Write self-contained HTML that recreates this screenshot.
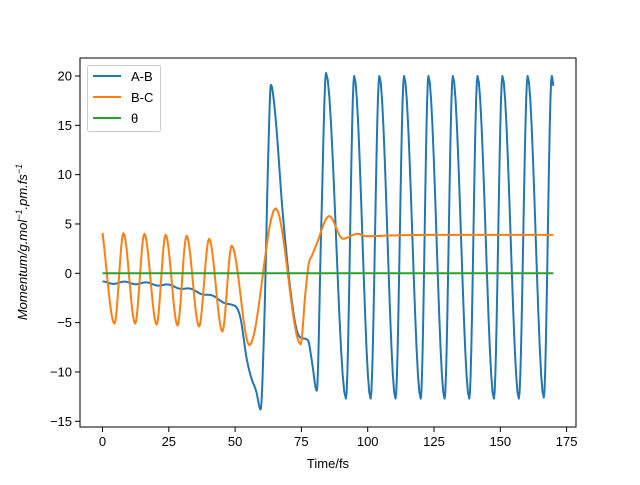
<!DOCTYPE html>
<html><head><meta charset="utf-8"><style>
body{margin:0;background:#fff}
svg text{font-family:"Liberation Sans","DejaVu Sans",sans-serif;font-size:13px;fill:#000}
</style></head><body>
<svg id="s" width="640" height="480" xmlns="http://www.w3.org/2000/svg">
<rect width="640" height="480" fill="#fff"/>
<g id="plot"></g>
<rect x="80" y="58" width="496" height="369" fill="none" stroke="#000" stroke-width="1"/>
<g id="ticks" stroke="#000" stroke-width="1"></g>
<g id="labels"></g>
<text x="328" y="468" text-anchor="middle">Time/fs</text>
<text transform="translate(27,242) rotate(-90)" text-anchor="middle" font-style="italic">Momentum/g.mol<tspan dy="-5" font-size="9">−1</tspan><tspan dy="5">.pm.fs</tspan><tspan dy="-5" font-size="9">−1</tspan></text>
<rect x="87.5" y="65.5" width="73" height="66" rx="2" fill="#fff" fill-opacity="0.8" stroke="#ccc"/>
<line x1="93" y1="76" x2="121" y2="76" stroke="#1f77b4" stroke-width="2"/>
<text x="131" y="81">A-B</text>
<line x1="93" y1="97" x2="121" y2="97" stroke="#ff7f0e" stroke-width="2"/>
<text x="131" y="102">B-C</text>
<line x1="93" y1="118" x2="121" y2="118" stroke="#2ca02c" stroke-width="2"/>
<text x="131" y="123">θ</text>
</svg>
<script>
var X=function(t){return 102.5+t*2.652},Y=function(v){return 273.3-v*9.865};
function mono(pts){var n=pts.length,d=[],m=[];for(var i=0;i<n-1;i++)d.push((pts[i+1][1]-pts[i][1])/(pts[i+1][0]-pts[i][0]));
m[0]=d[0];m[n-1]=d[n-2];for(i=1;i<n-1;i++){if(d[i-1]*d[i]<=0)m[i]=0;else m[i]=(d[i-1]+d[i])/2;}
for(i=0;i<n-1;i++){if(d[i]==0){m[i]=0;m[i+1]=0;continue;}var a=m[i]/d[i],b=m[i+1]/d[i],h=a*a+b*b;if(h>9){var tt=3/Math.sqrt(h);m[i]=tt*a*d[i];m[i+1]=tt*b*d[i];}}
var out=[];for(i=0;i<n-1;i++){var x0=pts[i][0],x1=pts[i+1][0],y0=pts[i][1],y1=pts[i+1][1],hh=x1-x0;
for(var k=0;k<12;k++){var s=k/12,h00=2*s*s*s-3*s*s+1,h10=s*s*s-2*s*s+s,h01=-2*s*s*s+3*s*s,h11=s*s*s-s*s;
out.push([x0+s*hh,h00*y0+h10*hh*m[i]+h01*y1+h11*hh*m[i+1]]);}}out.push(pts[n-1]);return out;}
function path(pts,c){var d=pts.map(function(p,i){return (i?'L':'M')+X(p[0]).toFixed(2)+' '+Y(p[1]).toFixed(2)}).join('');
return '<path d="'+d+'" fill="none" stroke="'+c+'" stroke-width="2" stroke-linejoin="round"/>';}
var b=[];for(var t=0;t<50;t+=0.5)b.push([t,-0.95-0.00002*t*t*t+0.12*Math.cos(2*Math.PI*t/8.3)]);
b=b.concat([[50,-3.3],[52,-4.5],[54.4,-8.7],[56,-10.5],[58,-12],[59.6,-13.8],[61,-5],[62.5,12],[63.5,19.1],[65,16.5],[68,6],[71,-2],[73.5,-6],[75.7,-6.6],[77.5,-6.8],[79,-9],[80.8,-11.9],[82.5,5],[84.3,20.3],[91.8,-12.7],[94.9,20],[101.1,-12.7],[104.4,20],[110.5,-12.7],[113.7,20],[120,-12.7],[122.9,20],[129,-12.7],[132.1,20],[138.3,-12.7],[141.4,20],[147.6,-12.7],[150.8,20],[157,-12.7],[160.3,20],[166.4,-12.6],[169.4,20],[170,19]]);
var o=[[0,4.1],[4.5,-5.1],[7.9,4.07],[12.3,-5.1],[15.8,4.0],[20.4,-5.2],[23.8,3.9],[28.3,-5.3],[31.7,3.8],[36.4,-5.4],[40.2,3.5],[45.2,-5.9],[48.7,2.8],[55.4,-7.3],[65.3,6.6],[74.7,-7.2],[76.5,-2],[77.8,1.0],[79,1.8],[80.5,2.8],[85.5,5.8],[90.6,3.5],[96.1,4.0],[99.6,3.75],[110,3.85],[140,3.9],[170,3.9]];
var g=document.getElementById('plot');
g.innerHTML=path(mono(b),'#1f77b4')+path(mono(o),'#ff7f0e')+path([[0,0],[170,0]],'#2ca02c');
var tk='',lb='';
for(var x=0;x<=175;x+=25){var px=X(x);tk+='<line x1="'+px+'" y1="427" x2="'+px+'" y2="432"/>';lb+='<text x="'+px+'" y="446" text-anchor="middle">'+x+'</text>';}
for(var v=-15;v<=20;v+=5){var py=Y(v);tk+='<line x1="75" y1="'+py+'" x2="80" y2="'+py+'"/>';lb+='<text x="72" y="'+(py+4.5)+'" text-anchor="end">'+(v<0?'−'+(-v):v)+'</text>';}
document.getElementById('ticks').innerHTML=tk;document.getElementById('labels').innerHTML=lb;
</script>
</body></html>
